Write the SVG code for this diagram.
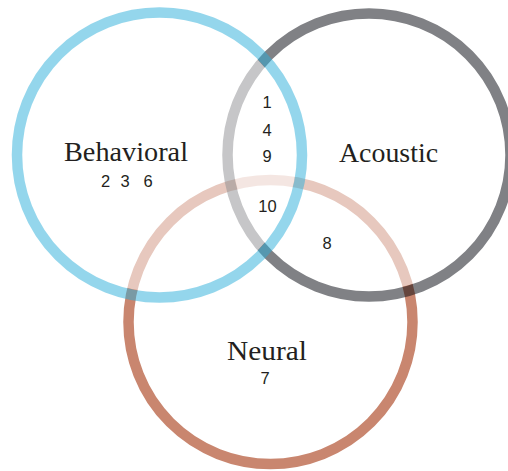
<svg xmlns="http://www.w3.org/2000/svg" width="508" height="471" viewBox="0 0 508 471">
  <style>
    .veil { fill: #ffffff; fill-opacity: 0.55; stroke: none; }
    .ring { fill: none; stroke-width: 10.5; }
    .title { font-family: "Liberation Serif", "Times New Roman", serif; font-size: 26.5px; fill: #231f20; text-anchor: middle; }
    .num { font-family: "Liberation Sans", Arial, sans-serif; font-size: 16.5px; fill: #231f20; text-anchor: middle; }
  </style>

  <rect width="508" height="471" fill="#ffffff"/>

  <!-- Neural: bottom layer, opaque ring -->
  <g id="neural">
    <circle class="ring" cx="270.5" cy="322" r="142" stroke="#c9866f"/>
    <text class="title" x="267" y="360" textLength="80" lengthAdjust="spacingAndGlyphs">Neural</text>
    <text class="num" x="265" y="384">7</text>
  </g>

  <!-- Acoustic: white veil lightens what lies beneath, translucent dark ring -->
  <g id="acoustic">
    <circle class="veil" cx="369" cy="155" r="136"/>
    <circle class="ring" cx="369" cy="155" r="141.5" stroke="#01030b" stroke-opacity="0.5"/>
    <text class="title" x="388.5" y="162" textLength="99" lengthAdjust="spacingAndGlyphs">Acoustic</text>
  </g>

  <!-- Behavioral: top layer, veil plus translucent blue ring -->
  <g id="behavioral">
    <circle class="veil" cx="159.5" cy="155" r="137"/>
    <circle class="ring" cx="159.5" cy="155" r="142.5" stroke="#29add9" stroke-opacity="0.5"/>
    <text class="title" x="126" y="161" textLength="124" lengthAdjust="spacingAndGlyphs">Behavioral</text>
    <text class="num" y="187"><tspan x="108">2</tspan> <tspan x="127.5">3</tspan> <tspan x="148">6</tspan></text>
  </g>

  <!-- Entries in the overlapping regions -->
  <g id="overlaps">
    <text class="num" x="267" y="108">1</text>
    <text class="num" x="267" y="136">4</text>
    <text class="num" x="267" y="161.5">9</text>
    <text class="num" x="267.5" y="212">10</text>
    <text class="num" x="327" y="249">8</text>
  </g>
</svg>
